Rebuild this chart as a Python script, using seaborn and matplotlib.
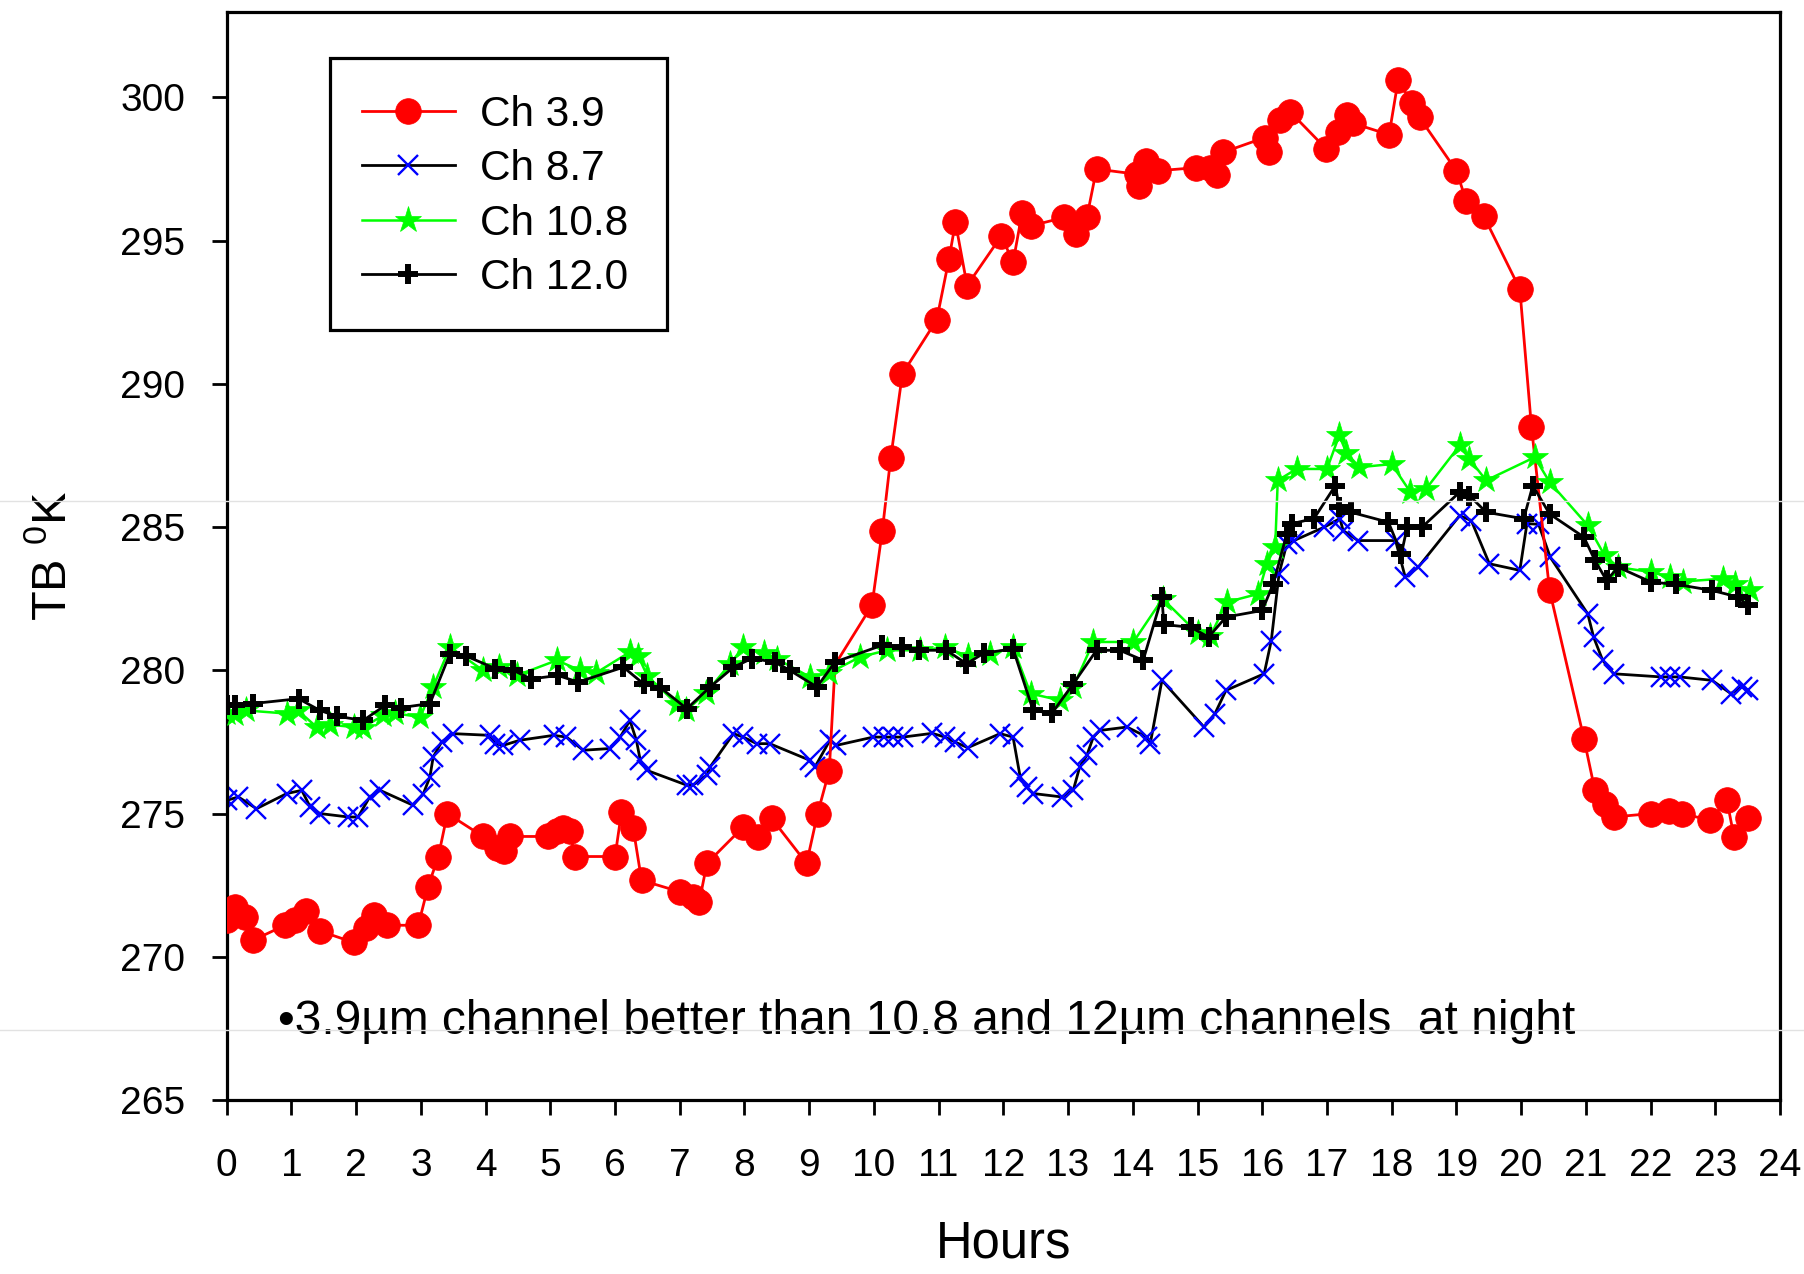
import matplotlib
matplotlib.use("Agg")
import matplotlib.pyplot as plt
from matplotlib.lines import Line2D
from matplotlib.patches import Rectangle
import seaborn as sns
import pandas as pd

# ---------------- data ----------------
hours_39 = [0.0, 0.13, 0.28, 0.41, 0.9, 1.05, 1.23, 1.44, 1.96, 2.16, 2.27, 2.47,
            2.96, 3.11, 3.27, 3.41, 3.96, 4.17, 4.28, 4.38, 4.97, 5.1, 5.2, 5.3, 5.38,
            6.0, 6.1, 6.28, 6.41, 7.0, 7.21, 7.3, 7.42, 7.98, 8.21, 8.42,
            8.96, 9.13, 9.31, 9.4, 9.97, 10.13, 10.26, 10.44, 10.97, 11.16, 11.26, 11.44,
            11.97, 12.15, 12.29, 12.43, 12.94, 13.12, 13.29, 13.44, 14.06, 14.1, 14.21, 14.39,
            14.98, 15.19, 15.3, 15.39, 16.04, 16.1, 16.28, 16.43, 16.99, 17.17, 17.31, 17.4,
            17.96, 18.1, 18.31, 18.43, 19.0, 19.15, 19.42, 19.98, 20.16, 20.44, 20.97,
            21.14, 21.29, 21.43, 22.01, 22.28, 22.48, 22.92, 23.18, 23.29, 23.5]
temps_39 = [271.28, 271.74, 271.39, 270.58, 271.1, 271.3, 271.6, 270.9, 270.5, 271.0, 271.45, 271.1,
            271.1, 272.44, 273.5, 275.0, 274.2, 273.8, 273.7, 274.2, 274.2, 274.4, 274.5, 274.4, 273.5,
            273.5, 275.05, 274.5, 272.67, 272.27, 272.1, 271.9, 273.26, 274.53, 274.18, 274.83,
            273.26, 275.0, 276.5, 280.2, 282.27, 284.88, 287.42, 290.35, 292.23, 294.36, 295.64, 293.43,
            295.17, 294.24, 295.98, 295.52, 295.81, 295.23, 295.81, 297.5, 297.32, 296.9, 297.79, 297.44,
            297.55, 297.55, 297.3, 298.08, 298.6, 298.1, 299.2, 299.5, 298.2, 298.8, 299.4, 299.1,
            298.7, 300.6, 299.82, 299.3, 297.44, 296.4, 295.87, 293.31, 288.49, 282.79, 277.62,
            275.81, 275.35, 274.88, 275.0, 275.1, 275.0, 274.77, 275.46, 274.18, 274.83]
# reading at 9.4 h lies on the line but its marker is hidden in the original
hidden_39 = [9.4]

hours_87 = [0.0, 0.18, 0.46, 0.93, 1.16, 1.29, 1.44, 1.88, 2.03, 2.21, 2.37, 2.88, 3.04, 3.14, 3.19,
            3.32, 3.5, 4.07, 4.15, 4.27, 4.53, 5.05, 5.25, 5.51, 5.92, 6.08, 6.23, 6.33, 6.39, 6.49,
            7.11, 7.2, 7.42, 7.47, 7.83, 7.98, 8.19, 8.39, 9.01, 9.09, 9.32, 9.42, 9.99, 10.15, 10.3,
            10.45, 10.9, 11.1, 11.25, 11.45, 11.95, 12.15, 12.26, 12.36, 12.46, 12.9, 13.08, 13.18, 13.29,
            13.39, 13.49, 13.91, 14.22, 14.27, 14.45, 15.1, 15.27, 15.44, 16.03, 16.14, 16.26, 16.38,
            16.49, 16.96, 17.2, 17.25, 17.48, 18.06, 18.21, 18.41, 19.05, 19.23, 19.51, 19.98, 20.09,
            20.27, 20.45, 21.03, 21.12, 21.26, 21.43, 22.16, 22.3, 22.45, 22.95, 23.24, 23.41, 23.5]
temps_87 = [275.46, 275.58, 275.17, 275.7, 275.81, 275.23, 275.0, 274.88, 274.88, 275.58, 275.81, 275.29,
            275.7, 276.28, 276.97, 277.5, 277.79, 277.73, 277.44, 277.38, 277.56, 277.73, 277.67, 277.21,
            277.27, 277.67, 278.25, 277.56, 276.86, 276.51, 275.99, 275.99, 276.34, 276.63, 277.79, 277.67,
            277.44, 277.44, 276.86, 276.63, 277.56, 277.38, 277.67, 277.67, 277.67, 277.67, 277.8, 277.67,
            277.5, 277.3, 277.79, 277.67, 276.28, 275.93, 275.7, 275.58, 275.81, 276.63, 277.03, 277.67,
            277.9, 278.02, 277.67, 277.44, 279.65, 278.02, 278.49, 279.3, 279.88, 281.04, 283.37, 284.42,
            284.53, 285.0, 285.3, 284.88, 284.53, 284.53, 283.25, 283.6, 285.4, 285.23, 283.72, 283.49,
            285.12, 285.1, 283.95, 281.97, 281.16, 280.35, 279.88, 279.77, 279.77, 279.77, 279.65, 279.19,
            279.42, 279.3]

hours_108 = [0.0, 0.13, 0.3, 0.93, 1.1, 1.39, 1.6, 1.96, 2.1, 2.42, 2.6, 2.99, 3.19, 3.45, 3.96, 4.2,
             4.48, 5.1, 5.46, 5.7, 6.23, 6.36, 6.5, 6.95, 7.1, 7.4, 7.78, 7.98, 8.3, 8.5, 9.01, 9.3, 9.78,
             10.2, 10.71, 11.1, 11.45, 11.79, 12.15, 12.42, 12.88, 13.08, 13.39, 14.01, 14.46, 15.0, 15.2,
             15.45, 15.94, 16.07, 16.2, 16.24, 16.53, 17.0, 17.19, 17.3, 17.5, 18.0, 18.29, 18.53, 19.05,
             19.2, 19.46, 20.21, 20.44, 21.03, 21.29, 21.5, 22.01, 22.3, 22.5, 23.12, 23.3, 23.53]
temps_108 = [278.5, 278.49, 278.6, 278.49, 278.6, 278.02, 278.1, 278.02, 278.0, 278.43, 278.5, 278.37,
             279.42, 280.81, 280.0, 280.1, 279.82, 280.35, 280.0, 279.9, 280.64, 280.49, 279.8, 278.84,
             278.6, 279.2, 280.23, 280.81, 280.6, 280.4, 279.77, 279.9, 280.46, 280.7, 280.7, 280.8, 280.5,
             280.58, 280.8, 279.19, 278.95, 279.42, 280.99, 280.99, 282.5, 281.3, 281.2, 282.38, 282.67,
             283.72, 284.3, 286.63, 287.03, 287.03, 288.2, 287.6, 287.09, 287.2, 286.22, 286.33, 287.85,
             287.38, 286.63, 287.44, 286.57, 285.06, 284.01, 283.6, 283.43, 283.25, 283.1, 283.2, 283.0,
             282.79]

hours_120 = [0.0, 0.13, 0.41, 1.11, 1.44, 1.7, 2.11, 2.45, 2.7, 3.14, 3.45, 3.7, 4.15, 4.43, 4.7, 5.12,
             5.43, 6.13, 6.44, 6.7, 7.11, 7.47, 7.83, 8.11, 8.47, 8.7, 9.12, 9.4, 10.12, 10.43, 10.7, 11.12,
             11.43, 11.7, 12.15, 12.46, 12.75, 13.08, 13.44, 13.8, 14.16, 14.45, 14.48, 14.9, 15.17, 15.44,
             16.0, 16.17, 16.38, 16.46, 16.8, 17.13, 17.19, 17.37, 17.95, 18.15, 18.24, 18.47, 19.05, 19.2,
             19.46, 20.04, 20.18, 20.44, 20.97, 21.14, 21.32, 21.5, 22.01, 22.4, 22.95, 23.35, 23.5]
temps_120 = [278.8, 278.78, 278.84, 279.01, 278.6, 278.4, 278.25, 278.78, 278.7, 278.84, 280.58, 280.5,
             280.06, 280.0, 279.7, 279.82, 279.59, 280.11, 279.53, 279.4, 278.66, 279.42, 280.11, 280.41,
             280.29, 280.0, 279.42, 280.29, 280.87, 280.81, 280.7, 280.7, 280.23, 280.6, 280.75, 278.6,
             278.5, 279.53, 280.7, 280.7, 280.35, 282.56, 281.6, 281.5, 281.16, 281.86, 282.09, 283.02,
             284.77, 285.12, 285.3, 286.45, 285.69, 285.52, 285.17, 284.07, 285.0, 285.0, 286.22, 286.1,
             285.52, 285.29, 286.45, 285.46, 284.65, 283.84, 283.14, 283.6, 283.08, 283.0, 282.79, 282.56,
             282.27]

series_labels = ["Ch 3.9", "Ch 8.7", "Ch 10.8", "Ch 12.0"]
x_ticks = list(range(0, 25))
y_ticks = [265, 270, 275, 280, 285, 290, 295, 300]
note_text = "\u20223.9\u00b5m channel better than 10.8 and 12\u00b5m channels  at night"

# ---------------- style ----------------
plt.rcParams["font.family"] = ["Liberation Sans", "DejaVu Sans"]
plt.rcParams["mathtext.fontset"] = "custom"
plt.rcParams["mathtext.rm"] = "Liberation Sans"
plt.rcParams["mathtext.it"] = "Liberation Sans:italic"
plt.rcParams["mathtext.bf"] = "Liberation Sans:bold"

W, H = 1804, 1274
fig = plt.figure(figsize=(W / 100, H / 100), dpi=100)
ax_l, ax_r, ax_t, ax_b = 226.7, 1780.0, 11.5, 1100.0
ax = fig.add_axes([ax_l / W, 1 - ax_b / H, (ax_r - ax_l) / W, (ax_b - ax_t) / H])

def fx(px):
    return (px - ax_l) / (ax_r - ax_l)

def fy(py):
    return (ax_b - py) / (ax_b - ax_t)

mark_39 = [i for i, h in enumerate(hours_39) if h not in hidden_39]

specs = [
    (hours_39, temps_39, dict(color="#ff0000", marker="o", markersize=18.5, markerfacecolor="#ff0000",
                              markeredgecolor="#ff0000", markeredgewidth=0.5, linewidth=2.0, zorder=3,
                              markevery=mark_39)),
    (hours_87, temps_87, dict(color="black", marker="x", markersize=15, markerfacecolor="#0000ff",
                              markeredgecolor="#0000ff", markeredgewidth=1.7, linewidth=2.0, zorder=2)),
    (hours_108, temps_108, dict(color="#00ff00", marker="*", markersize=20, markerfacecolor="#00ff00",
                                markeredgecolor="#00ff00", markeredgewidth=0.5, linewidth=1.8, zorder=4)),
    (hours_120, temps_120, dict(color="black", marker="+", markersize=15, markerfacecolor="black",
                                markeredgecolor="black", markeredgewidth=4.3, linewidth=2.0, zorder=5)),
]
for (hx, tv, kw), lab in zip(specs, series_labels):
    df = pd.DataFrame({"Hours": hx, "TB": tv})
    sns.lineplot(data=df, x="Hours", y="TB", ax=ax, sort=False, estimator=None,
                 label=lab, **kw)

ax.set_xlim(0, 24)
ax.set_ylim(265, 303)
ax.set_xticks(x_ticks)
ax.set_xticklabels([str(t) for t in x_ticks])
ax.set_yticks(y_ticks)
ax.set_yticklabels([str(t) for t in y_ticks])
ax.tick_params(axis="both", direction="out", length=11, width=2.0, labelsize=28, colors="black")
ax.tick_params(axis="y", pad=19)
ax.tick_params(axis="x", pad=23.5)
for sp in ax.spines.values():
    sp.set_linewidth(2.3)
    sp.set_color("black")
ax.grid(False)
ax.set_facecolor("white")

ax.set_xlabel("Hours", fontsize=36.5)
ax.xaxis.set_label_coords(0.5, fy(1244))
ax.xaxis.label.set_va("center")
ax.set_ylabel(r"TB $\mathregular{^0}$K", fontsize=35)
ax.yaxis.set_label_coords(fx(52.5), 0.5)
ax.yaxis.label.set_va("center")

ax.text(fx(278), fy(1021), note_text, transform=ax.transAxes, fontsize=34.5,
        ha="left", va="center")

# legend: frame drawn as a separate rectangle so its size matches the original box
leg = ax.legend(loc="upper left", bbox_to_anchor=(fx(330), fy(63)),
                borderaxespad=0, fontsize=30.5, handlelength=2.2, handletextpad=0.6, borderpad=0.75,
                labelspacing=0.34, frameon=False, numpoints=1)
leg.set_zorder(7)
ax.add_patch(Rectangle((fx(330), fy(330)), fx(667) - fx(330), fy(57.5) - fy(330),
                       transform=ax.transAxes, facecolor="white", edgecolor="black",
                       linewidth=2.3, zorder=6))

# faint horizontal lines present across the original image
for yy in (501, 1030):
    fig.add_artist(Line2D([0, 1], [1 - yy / H, 1 - yy / H], transform=fig.transFigure,
                          color="#e2e2e2", linewidth=1.0, zorder=10))

fig.savefig("out.png", dpi=100, facecolor="white")
